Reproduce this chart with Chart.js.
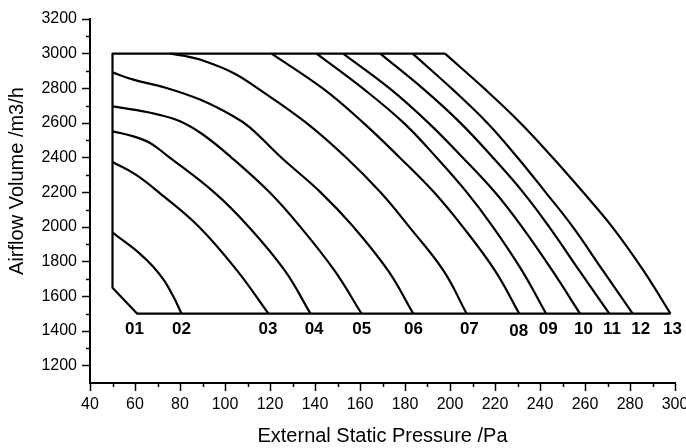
<!DOCTYPE html>
<html lang="en">
<head>
    <meta charset="UTF-8" />
    <title>Fan Curves</title>
    <style>
        body {
            margin: 0;
            padding: 0;
            background-color: #fff;
        }
        #chart {
            display: block;
        }
    </style>
    <script src="https://cdn.jsdelivr.net/npm/chart.js"></script>
</head>
<body>
    <canvas id="chart" width="686" height="448"></canvas>
    <script>
        // Outline of the working range (the short diagonal is speed 01)
        const envelopeP = [197.8, 50, 50, 61, 298];
        const envelopeQ = [3000, 3000, 1650, 1500, 1500];

        // Speed curves: pressure (Pa) and airflow (m3/h)
        const p02 = [50, 56, 62, 68, 73, 77, 80.7];
        const q02 = [1967, 1910, 1848, 1772, 1690, 1600, 1500];
        const p03 = [50, 60, 70.6, 88.4, 105.4, 119.3];
        const q03 = [2375, 2305, 2200, 2002, 1748, 1500];
        const p04 = [50, 59.3, 66.7, 74, 95.2, 110.5, 126.6, 138];
        const q04 = [2552, 2523, 2485, 2415, 2200, 2002, 1748, 1500];
        const p05 = [50, 60, 70, 80, 90, 102.5, 119.8, 133.4, 148.7, 160.7];
        const q05 = [2696, 2676, 2650, 2610, 2535, 2405, 2200, 2002, 1748, 1500];
        const p06 = [50, 59.3, 74, 88.9, 103.7, 111, 125, 142.5, 157, 172.5, 183.7];
        const q06 = [2892, 2850, 2802, 2735, 2639, 2575, 2401, 2200, 2002, 1748, 1500];
        const p07 = [75.6, 81.5, 88.9, 103.7, 114.7, 136, 153.8, 169.1, 181.8, 197.1, 207.4];
        const q07 = [3000, 2988, 2966, 2889, 2798, 2602, 2401, 2200, 2002, 1748, 1500];
        const p08 = [120.7, 143.6, 161.4, 177.6, 192.9, 205.6, 220, 230.8];
        const q08 = [3000, 2798, 2602, 2401, 2200, 2002, 1748, 1500];
        const p09 = [140.7, 161.4, 179.3, 194, 207.5, 219, 232, 242.7];
        const q09 = [3000, 2798, 2602, 2401, 2200, 2002, 1748, 1500];
        const p10 = [152.5, 173.3, 190.3, 205.6, 220, 231.9, 245.5, 257.8];
        const q10 = [3000, 2798, 2602, 2401, 2200, 2002, 1748, 1500];
        const p11 = [169, 188, 204.5, 219, 232.5, 244, 257.5, 270.8];
        const q11 = [3000, 2798, 2602, 2401, 2200, 2002, 1748, 1500];
        const p12 = [183.4, 200.8, 216.5, 230, 242.5, 254.5, 268, 281.2];
        const q12 = [3000, 2798, 2602, 2401, 2200, 2002, 1748, 1500];
        const p13 = [197.8, 215.3, 231.2, 245.6, 259.2, 272, 286, 298];
        const q13 = [3000, 2798, 2602, 2401, 2200, 2002, 1748, 1500];

        // Curve labels under the bottom line
        const curveNames = ["01", "02", "03", "04", "05", "06", "07", "08", "09", "10", "11", "12", "13"];
        const labelP = [59.8, 80.7, 119.1, 139.6, 160.8, 183.8, 208.6, 230.5, 243.7, 259.3, 272, 284.8, 298.9];
        const labelQ = [1410, 1410, 1410, 1410, 1410, 1412, 1412, 1400, 1410, 1410, 1410, 1412, 1412];

        // Axis ticks
        const yTickValues = [1200, 1400, 1600, 1800, 2000, 2200, 2400, 2600, 2800, 3000, 3200];
        const yMinorTicks = [1300, 1500, 1700, 1900, 2100, 2300, 2500, 2700, 2900, 3100];
        const xMinorTicks = [50, 70, 90, 110, 130, 150, 170, 190, 210, 230, 250, 270, 290];

        const fontFamily = "'Liberation Sans', Arial, sans-serif";

        function toPoints(ps, qs) {
            return ps.map((p, i) => ({ x: p, y: qs[i] }));
        }

        const curves = [
            [p02, q02], [p03, q03], [p04, q04], [p05, q05], [p06, q06], [p07, q07],
            [p08, q08], [p09, q09], [p10, q10], [p11, q11], [p12, q12], [p13, q13],
        ];

        const datasets = [
            {
                data: toPoints(envelopeP, envelopeQ),
                tension: 0,
            },
        ].concat(
            curves.map(([ps, qs]) => ({
                data: toPoints(ps, qs),
                tension: 0.4,
            }))
        ).map((ds) => Object.assign({
            showLine: true,
            borderColor: "#000",
            borderWidth: 2.2,
            borderJoinStyle: "round",
            pointRadius: 0,
            fill: false,
        }, ds));

        // minor ticks, curve names and the y axis title
        const extrasPlugin = {
            id: "extras",
            afterDraw(chart) {
                const ctx = chart.ctx;
                const xs = chart.scales.x;
                const ys = chart.scales.y;
                const area = chart.chartArea;
                ctx.save();
                ctx.strokeStyle = "#000";
                ctx.lineWidth = 1.5;
                ctx.beginPath();
                xMinorTicks.forEach((v) => {
                    const x = Math.round(xs.getPixelForValue(v)) + 0.5;
                    ctx.moveTo(x, area.bottom);
                    ctx.lineTo(x, area.bottom + 4);
                });
                yMinorTicks.forEach((v) => {
                    const y = Math.round(ys.getPixelForValue(v)) + 0.5;
                    ctx.moveTo(area.left - 4, y);
                    ctx.lineTo(area.left, y);
                });
                ctx.stroke();

                ctx.fillStyle = "#000";
                ctx.font = "bold 17px " + fontFamily;
                ctx.textAlign = "center";
                ctx.textBaseline = "middle";
                curveNames.forEach((name, i) => {
                    ctx.fillText(name, xs.getPixelForValue(labelP[i]), ys.getPixelForValue(labelQ[i]));
                });

                ctx.font = "20px " + fontFamily;
                ctx.translate(17, 181);
                ctx.rotate(-Math.PI / 2);
                ctx.fillText("Airflow Volume /m3/h", 0, 0);
                ctx.restore();
            },
        };

        new Chart(document.getElementById("chart"), {
            type: "scatter",
            data: { datasets: datasets },
            plugins: [extrasPlugin],
            options: {
                responsive: false,
                animation: false,
                devicePixelRatio: 1,
                layout: {
                    padding: { top: 19, right: 11, left: 0, bottom: 0 },
                },
                plugins: {
                    legend: { display: false },
                    tooltip: { enabled: false },
                },
                scales: {
                    x: {
                        type: "linear",
                        min: 40,
                        max: 300,
                        ticks: {
                            stepSize: 20,
                            color: "#000",
                            padding: 4,
                            font: { family: fontFamily, size: 16 },
                            callback: (v) => String(v),
                        },
                        grid: {
                            drawOnChartArea: false,
                            drawTicks: true,
                            tickLength: 8,
                            tickWidth: 1.5,
                            tickColor: "#000",
                        },
                        border: { display: true, color: "#000", width: 2 },
                        title: {
                            display: true,
                            text: "External Static Pressure /Pa",
                            color: "#000",
                            font: { family: fontFamily, size: 20 },
                            padding: { top: 0, bottom: 0 },
                        },
                        afterFit(scale) {
                            scale.height = 65;
                            scale.paddingLeft = 0;
                            scale.paddingRight = 0;
                        },
                    },
                    y: {
                        type: "linear",
                        min: 1100,
                        max: 3200,
                        afterBuildTicks(scale) {
                            scale.ticks = yTickValues.map((v) => ({ value: v }));
                        },
                        ticks: {
                            color: "#000",
                            padding: 5,
                            font: { family: fontFamily, size: 16 },
                            callback: (v) => String(v),
                        },
                        grid: {
                            drawOnChartArea: false,
                            drawTicks: true,
                            tickLength: 8,
                            tickWidth: 1.5,
                            tickColor: "#000",
                        },
                        border: { display: true, color: "#000", width: 2 },
                        afterFit(scale) {
                            scale.width = 90;
                            scale.paddingTop = 0;
                            scale.paddingBottom = 0;
                        },
                    },
                },
            },
        });
    </script>
</body>
</html>
